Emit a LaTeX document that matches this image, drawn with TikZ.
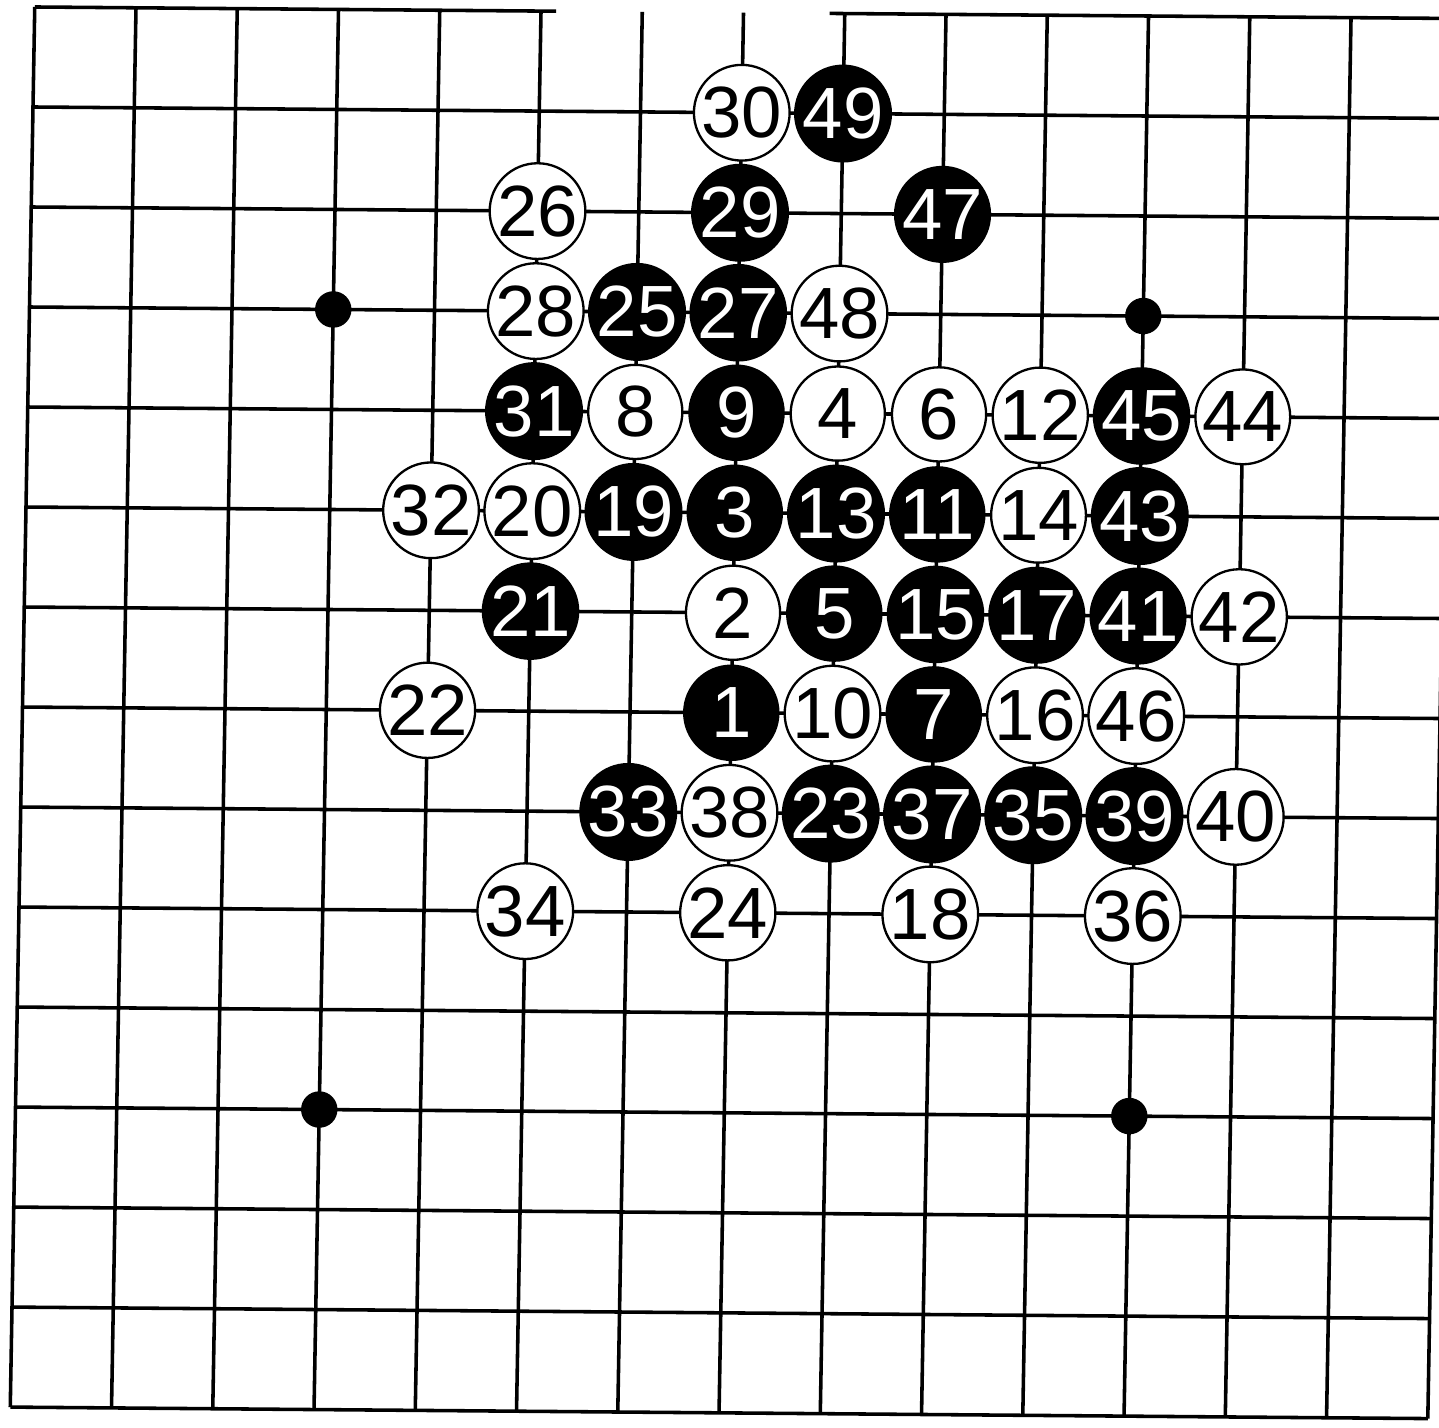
\documentclass[tikz,border=0pt]{standalone}
\usepackage{fontspec}
\setmainfont{Liberation Sans}
\usepackage{tikz}

\begin{document}
\begin{tikzpicture}[
    boardline/.style={line width=1pt,black},
    wstone/.style={circle,draw=black,line width=0.65pt,fill=white,minimum size=0.93cm,inner sep=0pt,font=\fontsize{20.4}{24}\selectfont},
    bstone/.style={wstone,fill=black,text=white},
    starpt/.style={circle,fill=black,minimum size=0.36cm,inner sep=0pt}
]
\clip (0,0) rectangle (14.212,-14.094);
% the scanned board is a little skewed
\begin{scope}[cm={1,-0.0081,0.01728,0.9877,(0.3432,-0.0691)}]
\foreach \k in {0,...,14} {
  \draw[boardline] (\k,0) -- (\k,-14);
}
\foreach \k in {1,...,14} {
  \draw[boardline] (0,-\k) -- (14,-\k);
}
\draw[boardline] (0,0) -- (5.15,0);
\draw[boardline] (7.85,0) -- (14,0);

% star points
\foreach \i/\j [count=\s] in {3/3,11/3,3/11,11/11}
  \node[starpt] (star\s) at (\i,-\j) {};

% black stones
\foreach \n/\i/\j in {1/7/7,3/7/5,5/8/6,7/9/7,9/7/4,11/9/5,13/8/5,15/9/6,17/10/6,
    19/6/5,21/5/6,23/8/8,25/6/3,27/7/3,29/7/2,31/5/4,33/6/8,35/10/8,37/9/8,
    39/11/8,41/11/6,43/11/5,45/11/4,47/9/2,49/8/1}
  \node[bstone] (m\n) at (\i,-\j) {\n};

% white stones
\foreach \n/\i/\j in {2/7/6,4/8/4,6/9/4,8/6/4,10/8/7,12/10/4,14/10/5,16/10/7,
    18/9/9,20/5/5,22/4/7,24/7/9,26/5/2,28/5/3,30/7/1,32/4/5,34/5/9,36/11/9,
    38/7/8,40/12/8,42/12/6,44/12/4,46/11/7,48/8/3}
  \node[wstone] (m\n) at (\i,-\j) {\n};
\end{scope}
\end{tikzpicture}
\end{document}
